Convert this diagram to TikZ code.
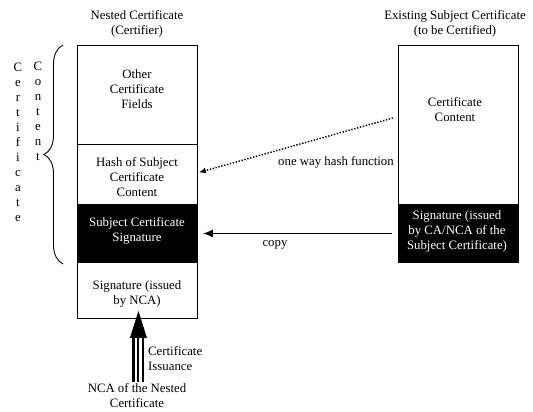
\documentclass[tikz,border=0pt]{standalone}
\usepackage{fontspec}
\setmainfont{Liberation Serif}
\usetikzlibrary{arrows.meta,decorations.pathreplacing,calc}
\tikzset{
  cell/.style={draw, line width=0.9pt, minimum width=120pt, inner sep=0pt, anchor=north west},
  blackcell/.style={cell, fill=black},
  txt/.style={align=center, inner sep=0pt},
  wtxt/.style={txt, text=white},
}
\begin{document}
\begin{tikzpicture}[x=1pt,y=-1pt,font=\fontsize{12.8}{15}\selectfont]
\useasboundingbox (0,0) rectangle (533,412);
% left stack
\node[cell, minimum height=99pt] (other) at (77,45) {};
\node[cell, minimum height=60pt] (hash) at (77,144) {};
\node[blackcell, minimum height=58pt] (subsig) at (77,204) {};
\node[cell, minimum height=56pt] (ncasig) at (77,262) {};
% right stack
\node[cell, minimum height=159pt] (content) at (398,45) {};
\node[blackcell, minimum height=58pt] (casig) at (398,204) {};
% texts
\node[txt] (t1) at (137,24) {Nested Certificate\\(Certifier)};
\node[txt] (t2) at (455,24) {Existing Subject Certificate\\(to be Certified)};
\node[txt] (l1) at (137,89) {Other\\Certificate\\Fields};
\node[txt] (l2) at (137,177) {Hash of Subject\\Certificate\\Content};
\node[wtxt] (l3) at (137,231) {Subject Certificate\\Signature};
\node[txt] (l4) at (137,294) {Signature (issued\\by NCA)};
\node[txt] (l5) at (455,110) {Certificate\\Content};
\node[wtxt] (l6) at (457,231) {Signature (issued\\by CA/NCA of the\\Subject Certificate)};
\node[txt] (vc1) at (18,142) {C\\e\\r\\t\\i\\f\\i\\c\\a\\t\\e};
\node[txt] (vc2) at (38,111) {C\\o\\n\\t\\e\\n\\t};
\node[txt] (hf) at (336,162) {one way hash function};
\node[txt] (cp) at (275,245) {copy};
\node[align=left, inner sep=0pt, anchor=west] (ci) at (148,359) {Certificate\\Issuance};
\node[txt] (nca) at (137,396) {NCA of the Nested\\Certificate};
% brace
\draw[line width=0.9pt, decorate, decoration={brace, amplitude=19pt, aspect=0.5}]
  (63,264) -- (63,45);
% dotted arrow
\coordinate (hs) at ($(content.west)+(-5,-7)$);
\draw[line width=1.4pt, dash pattern=on 1.4pt off 1.6pt, -{Latex[length=7pt,width=6pt]}] (hs) -- ($(hash.east)+(1,-2)$);
% copy arrow
\coordinate (cs) at ($(casig.west)+(-6,0)$);
\draw[line width=1.4pt, -{Latex[length=10pt,width=8pt]}] (cs) -- ($(subsig.east)+(5,0)$);
% thick issuance arrow
\coordinate (tip) at ($(ncasig.south)+(1,-8)$);
\coordinate (sb) at ($(tip)+(0,27)$);
\coordinate (se) at ($(tip)+(0,71)$);
\draw[line width=12pt] (sb) -- (se);
\draw[line width=7pt, white] (sb) -- (se);
\draw[line width=2pt] ($(sb)+(0,-1)$) -- (se);
\fill (tip) -- ($(sb)+(-8.5,0)$) -- ($(sb)+(8.5,0)$) -- cycle;
\end{tikzpicture}
\end{document}
